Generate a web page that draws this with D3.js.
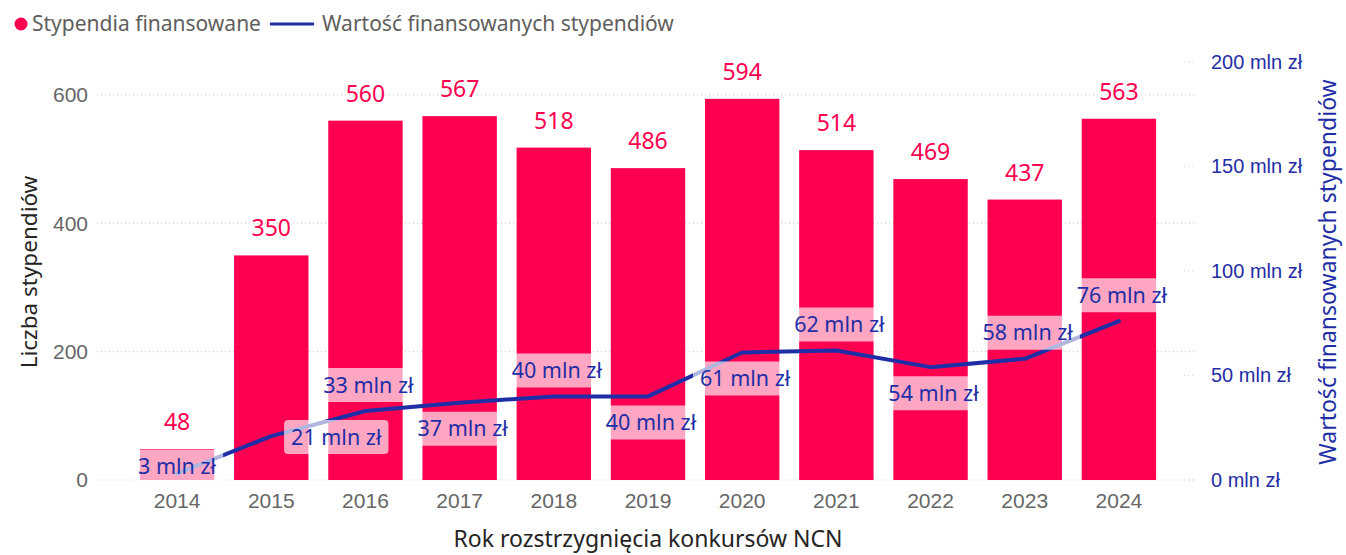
<!DOCTYPE html>
<html>
<head>
<meta charset="utf-8">
<script src="https://cdn.jsdelivr.net/npm/d3@7"></script>
<style>
  body { margin: 0; background: #fff; }
  svg { font-family: 'Segoe UI', 'Noto Sans', 'Open Sans', sans-serif; }
</style>
</head>
<body>
<div id="chart"></div>
<script>
'use strict'

// Data
const years = ['2014', '2015', '2016', '2017', '2018', '2019', '2020', '2021', '2022', '2023', '2024']
const scholarships = [48, 350, 560, 567, 518, 486, 594, 514, 469, 437, 563]
const valuesMln = [3, 21, 33, 37, 40, 40, 61, 62, 54, 58, 76]
const leftTicks = [0, 200, 400, 600]
const rightTicks = [0, 50, 100, 150, 200]
// where each value label sits around its point
const labelPlace = ['center', 'right', 'above', 'below', 'above', 'below', 'below', 'above', 'below', 'above', 'above']

const red = '#ff0050'
const blue = '#1f2ea6'

const dimensions = {
  width: 1346,
  height: 555,
  plotLeft: 130,
  plotRight: 1166,
  top: 62,
  bottom: 480,
}

const svg = d3
  .select('#chart')
  .append('svg')
  .attr('width', dimensions.width)
  .attr('height', dimensions.height)

// Scales
const xScale = d3
  .scaleBand()
  .domain(years)
  .range([dimensions.plotLeft, dimensions.plotRight])
  .paddingInner(0.21)
  .paddingOuter(0.105)

const yLeft = d3
  .scaleLinear()
  .domain([0, 651.4])
  .range([dimensions.bottom, dimensions.top])

const yRight = d3
  .scaleLinear()
  .domain([0, 200])
  .range([dimensions.bottom, dimensions.top])

const cx = (i) => xScale(years[i]) + xScale.bandwidth() / 2

// Gridlines
svg
  .append('g')
  .selectAll('line')
  .data(leftTicks)
  .join('line')
  .attr('x1', 97)
  .attr('x2', 1196)
  .attr('y1', (d) => yLeft(d))
  .attr('y2', (d) => yLeft(d))
  .attr('stroke', '#c8c8c8')
  .attr('stroke-width', 1)
  .attr('stroke-dasharray', '1,3')

svg
  .append('g')
  .selectAll('line')
  .data(rightTicks)
  .join('line')
  .attr('x1', 1184)
  .attr('x2', 1196)
  .attr('y1', (d) => yRight(d))
  .attr('y2', (d) => yRight(d))
  .attr('stroke', '#d8d8d8')
  .attr('stroke-dasharray', '1,3')

// Left axis
const leftAxis = d3.axisLeft(yLeft).tickValues(leftTicks).tickSize(0).tickPadding(0)
const leftGroup = svg.append('g').attr('transform', 'translate(88,0)').call(leftAxis)
leftGroup.select('.domain').remove()
leftGroup
  .selectAll('text')
  .attr('fill', '#666')
  .style('font-size', '21px')

// Right axis
const rightAxis = d3
  .axisRight(yRight)
  .tickValues(rightTicks)
  .tickSize(0)
  .tickPadding(0)
  .tickFormat((d) => d + ' mln zł')
const rightGroup = svg.append('g').attr('transform', 'translate(1211,0)').call(rightAxis)
rightGroup.select('.domain').remove()
rightGroup
  .selectAll('text')
  .attr('fill', blue)
  .style('font-size', '20px')

// Bottom axis
const xAxis = d3.axisBottom(xScale).tickSize(0).tickPadding(13)
const xGroup = svg
  .append('g')
  .attr('transform', `translate(0,${dimensions.bottom})`)
  .call(xAxis)
xGroup.select('.domain').remove()
xGroup
  .selectAll('text')
  .attr('fill', '#666')
  .style('font-size', '21px')

// Bars
svg
  .append('g')
  .selectAll('rect')
  .data(scholarships)
  .join('rect')
  .attr('x', (d, i) => xScale(years[i]))
  .attr('y', (d) => yLeft(d))
  .attr('width', xScale.bandwidth())
  .attr('height', (d) => yLeft(0) - yLeft(d))
  .attr('fill', red)

// Bar labels
svg
  .append('g')
  .selectAll('text')
  .data(scholarships)
  .join('text')
  .attr('x', (d, i) => cx(i))
  .attr('y', (d) => yLeft(d) - 19)
  .attr('text-anchor', 'middle')
  .attr('fill', red)
  .style('font-size', '23px')
  .text((d) => d)

// Line
const line = d3
  .line()
  .x((d, i) => cx(i))
  .y((d) => yRight(d))

svg
  .append('path')
  .datum(valuesMln)
  .attr('d', line)
  .attr('fill', 'none')
  .attr('stroke', blue)
  .attr('stroke-width', 4)
  .attr('stroke-linejoin', 'round')
  .attr('stroke-linecap', 'round')

// Line labels with translucent boxes
const offsets = {
  center: [0, -7],
  right: [65, 1],
  above: [3, -26],
  below: [3, 26],
}

const labels = svg
  .append('g')
  .selectAll('g')
  .data(valuesMln)
  .join('g')
  .attr('transform', (d, i) => {
    const o = offsets[labelPlace[i]]
    return `translate(${cx(i) + o[0]},${yRight(d) + o[1]})`
  })

labels.append('rect')

labels
  .append('text')
  .attr('text-anchor', 'middle')
  .attr('dy', '0.35em')
  .attr('fill', blue)
  .style('font-size', '21.5px')
  .text((d) => d + ' mln zł')

labels.each(function () {
  const g = d3.select(this)
  const w = g.select('text').node().getComputedTextLength() + 14
  g.select('rect')
    .attr('x', -w / 2)
    .attr('y', -17)
    .attr('width', w)
    .attr('height', 34)
    .attr('rx', 4)
    .attr('fill', '#fff')
    .attr('fill-opacity', 0.65)
})

// Axis titles
svg
  .append('text')
  .attr('x', 648)
  .attr('y', 547)
  .attr('text-anchor', 'middle')
  .attr('fill', '#252423')
  .style('font-size', '23px')
  .text('Rok rozstrzygnięcia konkursów NCN')

svg
  .append('text')
  .attr('transform', 'translate(37,272) rotate(-90)')
  .attr('text-anchor', 'middle')
  .attr('fill', '#252423')
  .style('font-size', '22.5px')
  .text('Liczba stypendiów')

svg
  .append('text')
  .attr('transform', 'translate(1336,272) rotate(-90)')
  .attr('text-anchor', 'middle')
  .attr('fill', blue)
  .style('font-size', '23px')
  .text('Wartość finansowanych stypendiów')

// Legend
const legend = svg.append('g')
legend.append('circle').attr('cx', 21).attr('cy', 24).attr('r', 6.5).attr('fill', red)
legend
  .append('text')
  .attr('x', 32)
  .attr('y', 31)
  .attr('fill', '#605e5c')
  .style('font-size', '21px')
  .text('Stypendia finansowane')
legend
  .append('line')
  .attr('x1', 270)
  .attr('x2', 314)
  .attr('y1', 24)
  .attr('y2', 24)
  .attr('stroke', blue)
  .attr('stroke-width', 3)
legend
  .append('text')
  .attr('x', 322)
  .attr('y', 31)
  .attr('fill', '#605e5c')
  .style('font-size', '21px')
  .text('Wartość finansowanych stypendiów')
</script>
</body>
</html>
